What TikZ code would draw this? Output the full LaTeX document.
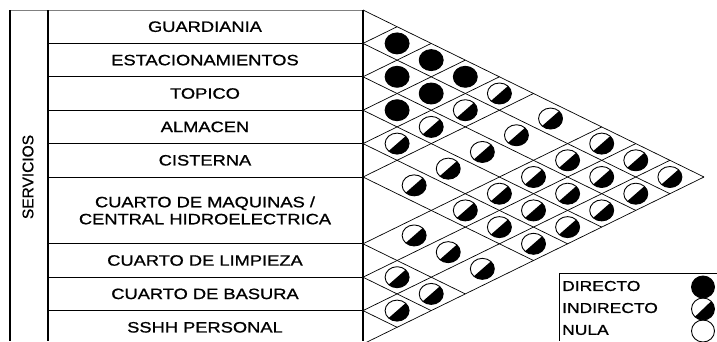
\documentclass[tikz,border=0pt]{standalone}
\usepackage{fontspec}
\setmainfont{Liberation Sans}[FakeBold=1]
\newfontfamily\widesans[FakeStretch=1.22,FakeBold=1]{Liberation Sans}
\usetikzlibrary{shapes.geometric}

\tikzset{
  rowlabel/.style={font=\widesans\fontsize{15}{17}\selectfont, align=center},
  keylabel/.style={font=\widesans\fontsize{14.3}{17}\selectfont, anchor=west, inner sep=0pt},
  dirsym/.style={ellipse, draw, line width=0.9pt, fill=black, minimum width=24pt, minimum height=21pt, inner sep=0pt},
  indsym/.style={ellipse, draw, line width=0.9pt, minimum width=24pt, minimum height=21pt, inner sep=0pt,
    path picture={\fill[black] (path picture bounding box.south west) -- (path picture bounding box.north east) -- (path picture bounding box.south east) -- cycle;}},
  nulsym/.style={ellipse, draw, line width=0.9pt, minimum width=23pt, minimum height=22pt, inner sep=0pt},
}

\begin{document}
\begin{tikzpicture}[x=1pt, y=1pt, line join=round]
  % Frame of the picture
  \clip (0,0) rectangle (717,-341);

  % Table of services
  \draw[gray, line width=0.8pt] (10,-10) -- (363,-10);
  \draw[line width=1.2pt] (10,-10) -- (10,-341) (48,-10) -- (48,-341) (363,-10) -- (363,-341);
  \foreach \k in {1,2,3,4,5,7,8,9}
    \draw[line width=1pt] (48,{-10-33.4*\k}) -- (363,{-10-33.4*\k});

  \node[font=\fontsize{15.5}{17}\selectfont, rotate=90] (serv) at (28,-177) {SERVICIOS};

  % Row labels
  \foreach \c/\txt [count=\n] in {0.5/GUARDIANIA, 1.5/ESTACIONAMIENTOS, 2.5/TOPICO, 3.5/ALMACEN, 4.5/CISTERNA,
      6/{CUARTO DE MAQUINAS /\\CENTRAL HIDROELECTRICA}, 7.5/CUARTO DE LIMPIEZA, 8.5/CUARTO DE BASURA, 9.5/SSHH PERSONAL}
    \node[rowlabel] (lab\n) at (205,{-10-33.4*\c}) {\txt};

  % Relation matrix
  \begin{scope}[shift={(363,-10)}, x=34.1pt, y=-33.4pt, line width=0.7pt]
    \foreach \a in {0,1,2,3,4,5,7,8,9}
      \draw (0,\a) -- ({10-\a},{(\a+10)/2});
    \foreach \b in {1,2,3,4,5,7,8,9,10}
      \draw (0,\b) -- (\b,{\b/2});

    % Symbols in the cells
    \def\rowc{{0.5,1.5,2.5,3.5,4.5,6,7.5,8.5,9.5}}
    \foreach \j in {2,...,9} {
      \pgfmathtruncatemacro\jm{\j-1}
      \foreach \i in {1,...,\jm} {
        \pgfmathsetmacro\ci{\rowc[\i-1]}
        \pgfmathsetmacro\cj{\rowc[\j-1]}
        \ifnum\j<5 \def\sym{dirsym}\else\def\sym{indsym}\fi
        \node[\sym] (m\i\j) at ({\cj-\ci},{(\ci+\cj)/2}) {};
      }
    }
  \end{scope}

  % Legend
  \draw[line width=1pt] (717,-273) -- (559,-273) -- (559,-341);
  \node[keylabel] (kdir) at (562,-286) {DIRECTO};
  \node[keylabel] (kind) at (562,-308) {INDIRECTO};
  \node[keylabel] (knul) at (562,-330) {NULA};
  \node[dirsym, minimum width=23pt, minimum height=22pt] (sdir) at (703,-287) {};
  \node[indsym, minimum width=23pt, minimum height=22pt] (sind) at (703,-309) {};
  \node[nulsym] (snul) at (703,-331) {};
\end{tikzpicture}
\end{document}
